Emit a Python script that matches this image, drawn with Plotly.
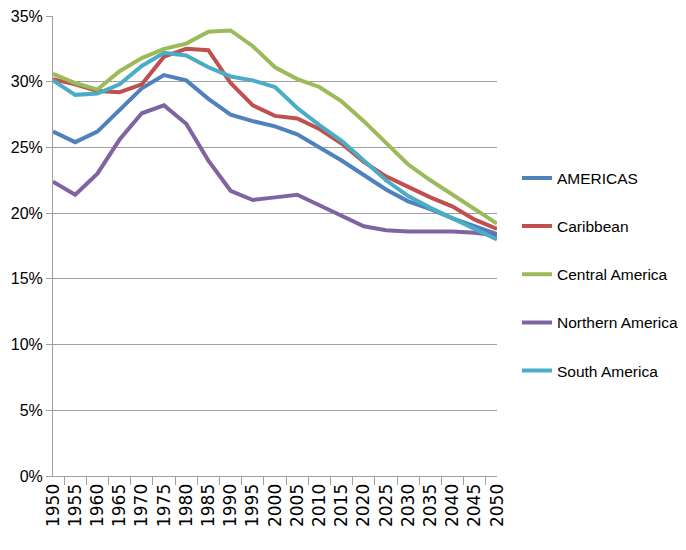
import plotly.graph_objects as go

years = [str(y) for y in range(1950, 2051, 5)]

americas = [26.2, 25.4, 26.2, 27.9, 29.5, 30.5, 30.1, 28.7, 27.5, 27.0, 26.6, 26.0, 25.0, 24.0, 22.9, 21.8, 20.9, 20.3, 19.6, 19.0, 18.4]
caribbean = [30.2, 29.8, 29.3, 29.2, 29.8, 31.9, 32.5, 32.4, 29.9, 28.2, 27.4, 27.2, 26.4, 25.3, 23.9, 22.8, 22.0, 21.2, 20.5, 19.5, 18.8]
central_america = [30.6, 29.9, 29.4, 30.8, 31.8, 32.5, 32.9, 33.8, 33.9, 32.7, 31.1, 30.2, 29.6, 28.5, 27.0, 25.3, 23.7, 22.5, 21.4, 20.3, 19.2]
northern_america = [22.4, 21.4, 23.0, 25.6, 27.6, 28.2, 26.8, 24.0, 21.7, 21.0, 21.2, 21.4, 20.6, 19.8, 19.0, 18.7, 18.6, 18.6, 18.6, 18.5, 18.3]
south_america = [30.1, 29.0, 29.1, 29.8, 31.2, 32.2, 32.0, 31.1, 30.4, 30.1, 29.6, 28.0, 26.7, 25.5, 24.0, 22.5, 21.3, 20.4, 19.6, 18.8, 18.0]

series = [
    ("AMERICAS", americas, "#4F81BD"),
    ("Caribbean", caribbean, "#C0504D"),
    ("Central America", central_america, "#9BBB59"),
    ("Northern America", northern_america, "#8064A2"),
    ("South America", south_america, "#4BACC6"),
]

fig = go.Figure()
for name, vals, color in series:
    fig.add_trace(go.Scatter(
        x=years, y=[v / 100 for v in vals], name=name, mode="lines",
        line=dict(color=color, width=4), legendgroup=name,
    ))

fig.update_layout(
    width=678, height=542,
    margin=dict(l=45, r=189, t=8, b=74, autoexpand=False),
    paper_bgcolor="white", plot_bgcolor="white",
    font=dict(family="Liberation Sans, sans-serif", color="#000000"),
    legend=dict(x=1.045, y=0.684, xanchor="left", yanchor="top",
                font=dict(size=15.5, family="Liberation Sans, sans-serif", color="#000000"),
                tracegroupgap=25, bgcolor="rgba(0,0,0,0)"),
    showlegend=True,
)
fig.update_xaxes(
    type="category", tickangle=-90, tickson="boundaries",
    ticks="outside", ticklen=8, tickcolor="#A0A0A0",
    showline=True, linecolor="#A0A0A0", linewidth=1,
    showgrid=False, automargin=False,
    tickfont=dict(family="DejaVu Sans", size=17, color="#000000"),
)
fig.update_yaxes(
    range=[0, 0.35], dtick=0.05, tickformat=".0%",
    ticks="outside", ticklen=6, tickcolor="#A0A0A0",
    showline=True, linecolor="#A0A0A0", linewidth=1,
    showgrid=True, gridcolor="#A0A0A0", gridwidth=1,
    zeroline=False, automargin=False, ticklabeloverflow="allow",
    tickfont=dict(family="Liberation Sans, sans-serif", size=16, color="#000000"),
)

fig.write_html("out.html")
